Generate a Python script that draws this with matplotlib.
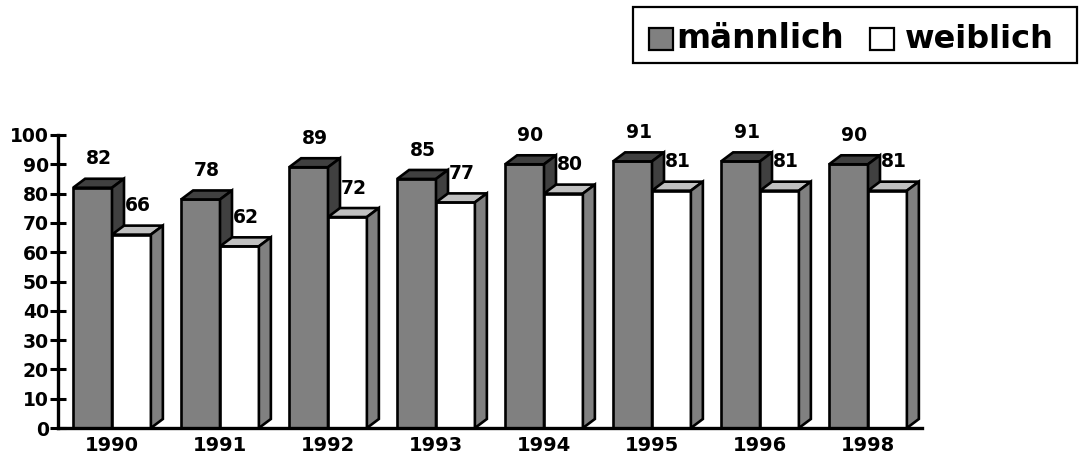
import matplotlib
matplotlib.use('Agg')
import matplotlib.pyplot as plt
from matplotlib.patches import Polygon, Rectangle

years = ['1990', '1991', '1992', '1993', '1994', '1995', '1996', '1998']
maennlich = [82, 78, 89, 85, 90, 91, 91, 90]
weiblich = [66, 62, 72, 77, 80, 81, 81, 81]
series_names = ['männlich', 'weiblich']

W, H = 1081, 457
fig = plt.figure(figsize=(W / 100, H / 100), dpi=100)
plt.rcParams['font.family'] = 'DejaVu Sans'
plt.rcParams['font.weight'] = 'bold'

ax = fig.add_axes([58 / W, 29 / H, 864 / W, 293 / H])
ax.set_xlim(-0.5, 7.5)
ax.set_ylim(0, 100)

w = 0.36      # bar width
dx = 0.111    # depth in x (data units)
dy = 3.07     # depth in y (data units)
lw = 1.9


def bar3d(x0, v, front, top, side):
    ax.add_patch(Polygon([(x0, 0), (x0 + w, 0), (x0 + w, v), (x0, v)],
                         closed=True, fc=front, ec='black', lw=lw, zorder=3))
    ax.add_patch(Polygon([(x0, v), (x0 + w, v), (x0 + w + dx, v + dy), (x0 + dx, v + dy)],
                         closed=True, fc=top, ec='black', lw=lw, zorder=3, joinstyle='miter'))
    ax.add_patch(Polygon([(x0 + w, 0), (x0 + w + dx, dy), (x0 + w + dx, v + dy), (x0 + w, v)],
                         closed=True, fc=side, ec='black', lw=lw, zorder=3, joinstyle='miter'))


for i in range(len(years)):
    bar3d(i - w, maennlich[i], '#808080', '#404040', '#404040')
    bar3d(i, weiblich[i], '#ffffff', '#c0c0c0', '#808080')
    ax.text(i - w / 2 + dx / 2, maennlich[i] + dy + 6.8, str(maennlich[i]),
            ha='center', va='center', fontsize=13.5, fontweight='heavy', zorder=5)
    ax.text(i + w / 2 + dx / 2, weiblich[i] + dy + 6.8, str(weiblich[i]),
            ha='center', va='center', fontsize=13.5, fontweight='heavy', zorder=5)

for s in ['top', 'right']:
    ax.spines[s].set_visible(False)
ax.spines['left'].set_linewidth(2.4)
ax.spines['bottom'].set_linewidth(2.4)
ax.spines['bottom'].set_zorder(6)

ax.set_yticks(range(0, 101, 10))
ax.tick_params(axis='y', direction='inout', length=11, width=2.2, pad=1, labelsize=13.5)
ax.set_xticks(range(len(years)))
ax.set_xticklabels(years, fontsize=14, fontweight='bold')
ax.tick_params(axis='x', length=0, pad=6)
for t in ax.get_yticklabels():
    t.set_fontweight('bold')

# legend drawn by hand (box at top right)
def fx(px):
    return px / W


def fy(py):
    return 1 - py / H


fig.patches.append(Rectangle((fx(633), fy(63)), fx(1077) - fx(633), fy(7) - fy(63),
                             transform=fig.transFigure, fc='white', ec='black', lw=1.6))
fig.patches.append(Rectangle((fx(649), fy(50)), fx(673) - fx(649), fy(28) - fy(50),
                             transform=fig.transFigure, fc='#808080', ec='black', lw=1.6))
fig.patches.append(Rectangle((fx(870), fy(50)), fx(894) - fx(870), fy(28) - fy(50),
                             transform=fig.transFigure, fc='white', ec='black', lw=1.6))
fig.text(fx(676), fy(48), series_names[0], fontsize=23.5, fontweight='bold', va='baseline', ha='left')
fig.text(fx(905), fy(48), series_names[1], fontsize=23, fontweight='bold', va='baseline', ha='left')

fig.savefig('out.png', dpi=100)
